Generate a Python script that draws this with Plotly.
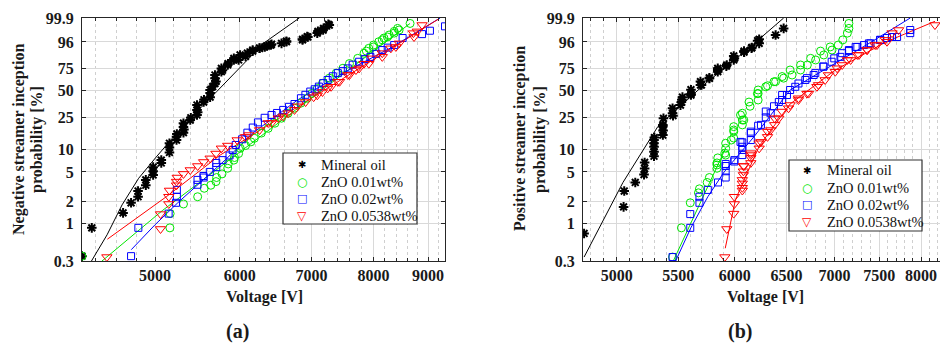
import numpy as np
import plotly.graph_objects as go

# ---------------- Panel (a): negative streamer ----------------
mo_a_v = [4272, 4363, 4667, 4748, 4820, 4820, 4901, 4901, 4979, 4979, 4979, 5067, 5067, 5157, 5157, 5157,
          5236, 5236, 5315, 5315, 5315, 5393, 5472, 5472, 5472, 5551, 5629, 5629, 5629, 5688, 5688, 5688,
          5767, 5767, 5846, 5924, 5924, 6004, 6099, 6169, 6261, 6355, 6425, 6564, 6634, 6868, 6937, 7089,
          7179, 7275, 5985, 6075, 6169, 6261, 6332, 6416, 6634, 6868, 6947, 7099, 7186, 7260,
          5240, 5320, 5400, 5480, 5555, 5660, 5700, 5780, 5850]
mo_a_p = [0.35, 0.86, 1.38, 1.9, 2.3, 2.75, 3.3, 3.9, 4.55, 5.1, 5.8, 6.6, 7.2, 9.1, 10.6, 12.0,
          13.2, 14.5, 16.4, 19.3, 21.5, 23.5, 27, 30.9, 35.1, 37.8, 42.6, 46.9, 50.2, 57.6, 63.8, 67.5,
          71.3, 75, 78.7, 83.7, 85.2, 88.1, 89.5, 91.7, 92.8, 94.1, 95.0, 95.4, 96.1, 96.8, 97.8, 98.6,
          99.1, 99.6, 83.7, 86.9, 91, 92.9, 93.6, 94.6, 96.3, 97, 97.7, 98.9, 99.3, 99.65,
          15.8, 18, 25, 29, 40, 54, 60, 73, 80]

zn1_a_v = [4272, 5162, 5165, 5315, 5480, 5558, 5637, 5700, 5708, 5775, 5846, 5853, 5924, 5932, 5985, 6006,
           6075, 6145, 6191, 6285, 6379, 6471, 6564, 6658, 6750, 6844, 6937, 7008, 7089, 7169, 7276, 7384,
           7492, 7598, 7734, 7840, 7921, 8002, 8093, 8184, 8275, 8366, 8428, 8657,
           8455, 8366, 8246, 8154, 8002, 7880]
zn1_a_p = [0.35, 0.86, 1.35, 1.83, 2.3, 3.0, 3.3, 3.7, 4.2, 4.7, 5.6, 6.4, 7.2, 7.8, 8.8, 10.3,
           11.2, 12.5, 13.9, 16.2, 18.6, 21.5, 24.7, 28.3, 32.3, 36.8, 41.5, 46.5, 51.8, 57.7, 63.8, 69.7,
           75.2, 80.2, 85.2, 89.4, 92.8, 94.6, 96.1, 97.4, 98.2, 98.9, 99.3, 99.7,
           99.1, 98.6, 97.7, 96.8, 93.6, 91]

zn2_a_v = [4748, 4823, 5148, 5230, 5240, 5240, 5478, 5478, 5549, 5625, 5704, 5704, 5782, 5869, 5909, 5948,
           6099, 6239, 6425, 6588, 6750, 6844, 6983, 7114, 7249, 7410, 7571, 7758, 7948, 8154, 8366, 8519,
           8883, 9035, 9333, 5551, 6030, 6170, 6330, 6500, 6670, 6910, 7050, 7180, 7330, 7490, 7650, 7850,
           8050, 8250]
zn2_a_p = [0.35, 0.86, 1.35, 1.9, 2.3, 2.85, 3.35, 3.9, 4.4, 5.0, 5.8, 6.6, 7.2, 8.3, 9.8, 11.4,
           16.4, 22, 27, 30.9, 36, 41.5, 48.5, 54, 61.7, 69.7, 75, 82, 86.5, 91.7, 94.6, 97.4,
           98.4, 99.0, 99.5, 4.2, 13.5, 19, 25, 28.5, 33.5, 45, 51, 58, 66, 72, 79, 84.5,
           89, 93.2]

zn3_a_v = [4507, 5059, 5059, 5150, 5150, 5157, 5236, 5236, 5244, 5315, 5393, 5480, 5551, 5629, 5700, 5767,
           5846, 5966, 6075, 6261, 6425, 6588, 6750, 6913, 7089, 7249, 7410, 7598, 7758, 7921, 8154, 8397,
           8719, 8883, 6118, 6379, 6519, 6658, 6797, 7034, 7169, 7303, 7437, 7571, 7705, 7840, 7976, 8154,
           8306, 8457, 8731, 8793]
zn3_a_p = [0.34, 0.83, 1.33, 1.83, 2.3, 2.8, 3.3, 3.7, 4.2, 4.7, 5.3, 6.0, 6.8, 7.6, 8.8, 10.3,
           11.2, 13.2, 14.5, 17.7, 21.6, 26, 30.9, 37.8, 44.5, 52, 59.6, 67.5, 75, 80, 86.5, 93.6,
           98.6, 99.6, 15.3, 21.6, 24.7, 28.3, 34, 42.6, 48, 53.8, 59.6, 67.5, 73.2, 80, 85.2, 89.5,
           92.8, 95.4, 97.7, 98.9]

# fitted curves, panel (a)
fit_mo_a_v = [4360, 4509, 4657, 4826, 5004, 5200, 5319, 5713, 5949, 6313, 6820]
fit_mo_a_p = [0.3, 0.69, 1.78, 4.1, 7.7, 14.5, 20.5, 48.8, 71.3, 95.4, 99.9]
fit_zn1_a_v = [4460, 5083, 8657]
fit_zn1_a_p = [0.3, 1.5, 99.7]
fit_zn2_a_v = [4750, 5000, 5250, 5500, 5800, 6200, 6800, 7500, 8300, 9235]
fit_zn2_a_p = [0.43, 0.95, 1.9, 3.5, 7, 17, 40, 70, 93, 99.9]
fit_zn3_a_v = [4512, 5122, 5752, 9198]
fit_zn3_a_p = [0.6, 2.3, 8.4, 99.87]

# ---------------- Panel (b): positive streamer ----------------
mo_b_v = [4755, 5054, 5059, 5146, 5216, 5221, 5221, 5297, 5297, 5297, 5297, 5370, 5370, 5375, 5451, 5451,
          5526, 5535, 5608, 5608, 5691, 5691, 5770, 5845, 5845, 5927, 5991, 5991, 6087, 6158, 6231, 6231,
          6391, 6471, 5370, 5518, 5608, 5700, 5770, 5845, 5923, 5997, 6087, 6161, 6216,
          5297, 5300, 5372, 5455, 5530]
mo_b_p = [0.72, 1.67, 2.75, 3.6, 4.6, 5.55, 6.7, 8.1, 9.3, 10.8, 13.2, 15.3, 19.6, 24.6, 28.3, 32.3,
          37.8, 42.6, 46, 50.5, 55.9, 59.8, 64.3, 71.3, 75.2, 78.7, 83.7, 87.3, 91, 92.9, 95.4, 97,
          98.2, 99.3, 20.5, 35, 44.8, 55.9, 63.4, 73.2, 77.5, 85.2, 90.3, 93.3, 96.5,
          12, 14.2, 17.5, 26.5, 40]

zn1_b_v = [5451, 5526, 5602, 5673, 5682, 5750, 5770, 5838, 5838, 5845, 5917, 5917, 5917, 5991, 5991, 5991,
           6071, 6071, 6144, 6221, 6221, 6221, 6312, 6391, 6471, 6556, 6642, 6712, 6799, 6885, 6973, 7040,
           7090, 7140, 7157, 7157, 5838, 5909, 5968, 5991, 6071, 6085, 6054, 6134, 6214, 6295, 6375, 6456,
           6536, 6642, 6746, 6850, 6953]
zn1_b_p = [0.34, 0.86, 1.9, 2.6, 2.95, 3.6, 4.2, 5.6, 6.6, 7.7, 8.4, 10.3, 12, 14, 16.9, 19.5,
           23.5, 28.3, 34, 39.8, 46.3, 50.2, 55, 59.8, 63.8, 67.5, 73.2, 78.7, 83.7, 88.1, 91.7, 94.6,
           96.8, 98.6, 99.3, 99.7, 6.2, 8.9, 13.2, 17.7, 20.5, 23.5, 27, 37.8, 46.3, 53.8, 59.6, 65.7,
           73.2, 78.7, 85.2, 91, 93.6]

zn2_b_v = [5451, 5602, 5602, 5682, 5682, 5756, 5847, 5917, 5917, 5917, 5917, 5997, 5997, 6071, 6071, 6071,
           6071, 6151, 6151, 6221, 6295, 6295, 6375, 6456, 6456, 6536, 6621, 6708, 6795, 6881, 6969, 7064,
           7157, 7251, 7381, 7511, 7650, 7868, 7868, 6054, 6151, 6248, 6343, 6423, 6504, 6588, 6692, 6778,
           6881, 6997, 7083, 7157, 7232, 7325, 7400, 7511, 7591, 7710]
zn2_b_p = [0.34, 0.86, 1.33, 1.9, 2.3, 2.85, 3.6, 4.2, 5.1, 6.0, 6.4, 6.9, 7.2, 8.4, 9.8, 10.8,
           12.3, 13.2, 16.9, 20, 25.3, 29.6, 34, 39.8, 44.8, 50.2, 57.6, 63.8, 69.7, 77, 82, 86.5,
           91, 93.6, 95.4, 96.8, 97.7, 98.6, 99.1, 12.5, 16.2, 20.5, 28.3, 37.8, 44.8, 53.8, 61.7, 67.5,
           77, 85.2, 89.5, 91.7, 93.6, 94.6, 95.4, 96.8, 97.4, 97.7]

zn3_b_v = [5909, 5927, 5991, 5997, 5997, 6071, 6071, 6071, 6071, 6081, 6081, 6081, 6151, 6151, 6151, 6231,
           6231, 6312, 6312, 6382, 6382, 6456, 6536, 6621, 6708, 6812, 6899, 7008, 7083, 7176, 7269, 7361,
           7454, 7570, 7650, 7728, 8174, 6087, 6151, 6248, 6343, 6423, 6520, 6621, 6725, 6829, 6934, 7028,
           7139, 7251, 7361, 7474, 7591]
zn3_b_p = [0.34, 0.83, 1.35, 1.83, 2.3, 2.8, 3.05, 3.5, 3.9, 4.55, 5.1, 6.0, 6.6, 7.7, 8.9, 10.3,
           12, 14.5, 16.9, 20.5, 24.7, 29.6, 35.1, 41.5, 46.3, 53.8, 61.7, 71.3, 78.7, 83.7, 88.1, 91.7,
           94.6, 96.8, 98.6, 99.1, 99.6, 6.0, 8.4, 12.5, 17.7, 24.6, 32.3, 39.8, 46.3, 55.9, 67.5, 75.2,
           83.7, 88.1, 91.7, 94.6, 96.1]

fit_mo_b_v = [4755, 5049, 5329, 5720, 6100, 6471]
fit_mo_b_p = [0.34, 3.6, 19.6, 55.9, 91, 99.9]
fit_zn1_b_v = [5457, 5917]
fit_zn1_b_p = [0.3, 10.4]
fit_zn2_b_v = [5477, 5607, 5756, 5903, 6184, 6536, 7351, 7868]
fit_zn2_b_p = [0.3, 0.86, 2.3, 5.0, 14.7, 50.2, 94.6, 99.9]
fit_zn3_b_v = [5913, 6007, 6231, 6536, 7008, 7583, 8174]
fit_zn3_b_p = [0.45, 2.1, 11, 36, 73.2, 96.1, 99.8]

series_names = ["Mineral oil", "ZnO 0.01wt%", "ZnO 0.02wt%", "ZnO 0.0538wt%"]
ytick_pct = [0.3, 1, 2, 5, 10, 25, 50, 75, 96, 99.9]
ytick_text = ["0.3", "1", "2", "5", "10", "25", "50", "75", "96", "99.9"]
xticks_a = [5000, 6000, 7000, 8000, 9000]
xticks_b = [5000, 5500, 6000, 6500, 7000, 7500, 8000]


def wb(p):
    p = np.asarray(p, dtype=float) / 100.0
    return np.log(-np.log(1.0 - p))


W, H = 940, 344
SERIF = "Liberation Serif"
DARK = "#262626"
GREEN, BLUE, RED = "#00e600", "#0000ff", "#ff0000"

styles = [
    dict(symbol="asterisk-open", size=8, color="black", line=dict(color="black", width=2)),
    dict(symbol="circle-open", size=8, color=GREEN, line=dict(color=GREEN, width=1)),
    dict(symbol="square-open", size=7, color=BLUE, line=dict(color=BLUE, width=1)),
    dict(symbol="triangle-down-open", size=9, color=RED, line=dict(color=RED, width=1)),
]
line_colors = ["black", GREEN, BLUE, RED]

fig = go.Figure()

panels = [
    ("x", "y",
     [(mo_a_v, mo_a_p), (zn1_a_v, zn1_a_p), (zn2_a_v, zn2_a_p), (zn3_a_v, zn3_a_p)],
     [(fit_mo_a_v, fit_mo_a_p), (fit_zn1_a_v, fit_zn1_a_p), (fit_zn2_a_v, fit_zn2_a_p), (fit_zn3_a_v, fit_zn3_a_p)]),
    ("x2", "y2",
     [(mo_b_v, mo_b_p), (zn1_b_v, zn1_b_p), (zn2_b_v, zn2_b_p), (zn3_b_v, zn3_b_p)],
     [(fit_mo_b_v, fit_mo_b_p), (fit_zn1_b_v, fit_zn1_b_p), (fit_zn2_b_v, fit_zn2_b_p), (fit_zn3_b_v, fit_zn3_b_p)]),
]

for xa, ya, data, fits in panels:
    for i, (fv, fp) in enumerate(fits):
        fig.add_trace(go.Scatter(x=fv, y=wb(fp), mode="lines", xaxis=xa, yaxis=ya,
                                 line=dict(color=line_colors[i], width=1), showlegend=False,
                                 hoverinfo="skip"))
    for i, (v, p) in enumerate(data):
        fig.add_trace(go.Scatter(x=v, y=wb(p), mode="markers", xaxis=xa, yaxis=ya,
                                 name=series_names[i], showlegend=False, marker=styles[i]))

tickfont = dict(family=SERIF, size=16, color="#1a1a1a", weight="bold")
common_x = dict(type="log", showline=True, linecolor=DARK, linewidth=1, mirror="ticks",
                ticks="inside", ticklen=4, tickcolor=DARK, tickfont=tickfont,
                showgrid=True, gridcolor="#d9d9d9", gridwidth=1, zeroline=False,
                ticklabelstandoff=0, automargin=False)
common_y = dict(range=[float(wb(0.3)), float(wb(99.9))], tickmode="array", tickvals=wb(ytick_pct),
                ticktext=ytick_text, showline=True, linecolor=DARK, linewidth=1,
                ticks="inside", ticklen=4, tickcolor=DARK, tickfont=tickfont,
                showgrid=True, gridcolor="#d9d9d9", gridwidth=1, zeroline=False,
                ticklabelstandoff=4, automargin=False)

fig.update_layout(
    width=W, height=H, margin=dict(l=0, r=0, t=0, b=0, pad=0), autosize=False,
    paper_bgcolor="white", plot_bgcolor="white", showlegend=False,
    xaxis=dict(common_x, domain=[82 / W, 445 / W],
               range=[np.log10(4272), np.log10(9333)], tickmode="array", tickvals=xticks_a,
               ticktext=[str(t) for t in xticks_a],
               minor=dict(tickmode="array", tickvals=list(range(4400, 9400, 200)), ticks="inside",
                          ticklen=3, tickcolor=DARK, showgrid=True, gridcolor="#cfcfcf",
                          griddash="dot", gridwidth=1)),
    yaxis=dict(common_y, domain=[1 - 261 / H, 1 - 18 / H], mirror="ticks", anchor="x"),
    xaxis2=dict(common_x, domain=[583 / W, 1.0],
                range=[np.log10(4747), np.log10(8238)], tickmode="array", tickvals=xticks_b,
                ticktext=[str(t) for t in xticks_b], anchor="y2",
                minor=dict(tickmode="array", tickvals=list(range(4800, 8300, 100)), ticks="inside",
                           ticklen=3, tickcolor=DARK, showgrid=True, gridcolor="#cfcfcf",
                           griddash="dot", gridwidth=1)),
    yaxis2=dict(common_y, domain=[1 - 261 / H, 1 - 18 / H], mirror=False, anchor="x2"),
)

titlefont = dict(family=SERIF, size=16, color="#1a1a1a", weight="bold")
annots = [
    ("Negative streamer inception", 19, 140, -90),
    ("probability [%]", 37, 140, -90),
    ("Positive streamer inception", 520, 139, -90),
    ("probability [%]", 540, 140, -90),
    ("Voltage [V]", 264, 297, 0),
    ("Voltage [V]", 765, 297, 0),
]
for text, px, py, ang in annots:
    fig.add_annotation(text=text, x=px / W, y=1 - py / H, xref="paper", yref="paper",
                       showarrow=False, textangle=ang, font=titlefont,
                       xanchor="center", yanchor="middle")
for text, px in [("(a)", 238), ("(b)", 740)]:
    fig.add_annotation(text=text, x=px / W, y=1 - 331 / H, xref="paper", yref="paper",
                       showarrow=False, font=dict(family=SERIF, size=20, color="#1a1a1a", weight="bold"),
                       xanchor="center", yanchor="middle")

# ---- legends (box + key glyphs + labels) ----
key_glyphs = [("\u2731", "black", 10), ("\u25CB", GREEN, 12), ("\u25A1", BLUE, 11), ("\u25BD", RED, 12)]
legend_boxes = [
    # box x0, y0, x1, y1, key x, text x, row ys
    (283, 153, 417, 224, 301.5, 319, [164.5, 181.5, 198.5, 215.5]),
    (789, 160, 922, 231, 806.5, 825, [170, 187.5, 205, 222]),
]
for x0, y0, x1, y1, kx, tx, rows in legend_boxes:
    fig.add_shape(type="rect", xref="paper", yref="paper", x0=x0 / W, x1=x1 / W,
                  y0=1 - y0 / H, y1=1 - y1 / H, fillcolor="white",
                  line=dict(color="#333333", width=1.2), layer="above")
    for (g, c, s), name, ry in zip(key_glyphs, series_names, rows):
        fig.add_annotation(text=g, x=kx / W, y=1 - ry / H, xref="paper", yref="paper",
                           showarrow=False, xanchor="center", yanchor="middle",
                           font=dict(family="DejaVu Sans", size=s, color=c))
        fig.add_annotation(text=name, x=tx / W, y=1 - ry / H, xref="paper", yref="paper",
                           showarrow=False, xanchor="left", yanchor="middle",
                           font=dict(family=SERIF, size=14.5, color="#111111"))

fig.write_html("out.html")
